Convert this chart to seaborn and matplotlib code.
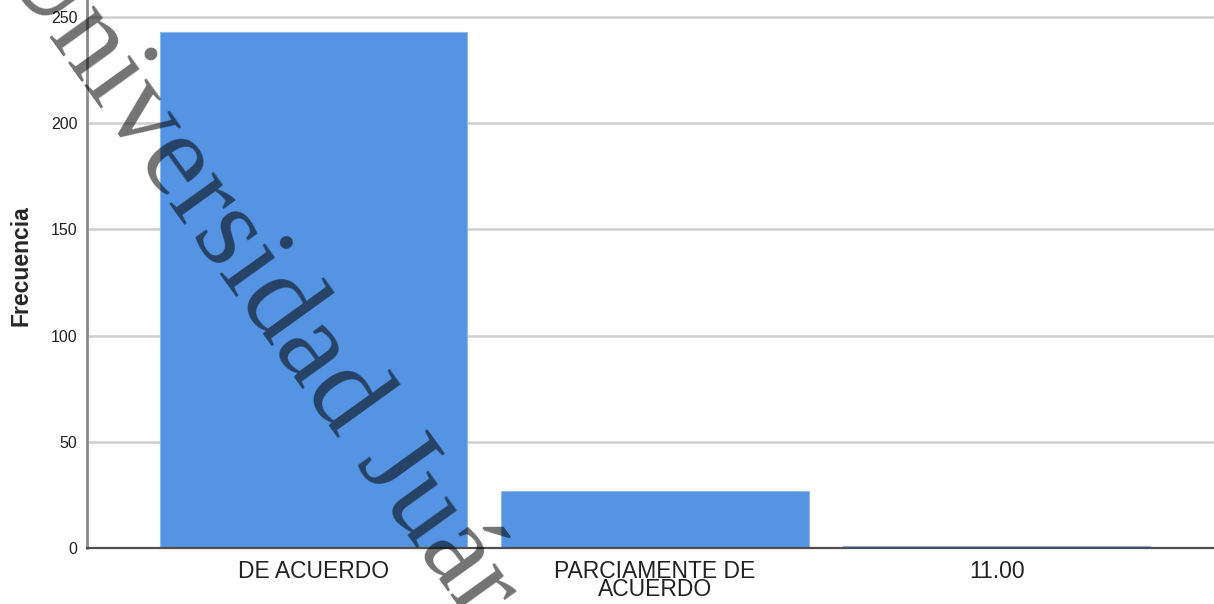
import pandas as pd
import matplotlib
matplotlib.use("Agg")
import matplotlib.pyplot as plt
import seaborn as sns


# ===================== datos =====================
categorias = ["DE ACUERDO", "PARCIAMENTE DE\nACUERDO", "11.00"]
frecuencias = [243, 27, 1]
y_ticks = [0, 50, 100, 150, 200, 250]
marca_agua = "Universidad Juárez Autónoma de Tabasco"

color_barra = "#5594e2"


def main():
    sns.set_style("white")
    plt.rcParams["font.family"] = ["Liberation Sans", "DejaVu Sans"]

    df = pd.DataFrame({"categoria": categorias, "frecuencia": frecuencias})

    fig = plt.figure(figsize=(12.14, 6.04), dpi=100)
    ax = fig.add_axes([87 / 1214, 56 / 604, 1 - 87 / 1214, 1 - 56 / 604])

    sns.barplot(data=df, x="categoria", y="frecuencia", color=color_barra,
                saturation=1, width=0.9, edgecolor="#8fb8ec", linewidth=0.8,
                ax=ax, zorder=2)

    ax.set_xlim(-0.663, 2.636)
    ax.set_ylim(0, 258)
    ax.set_yticks(y_ticks)
    ax.yaxis.grid(True, color="#cfcfcf", linewidth=1.8, zorder=0)
    ax.set_axisbelow(True)

    for s in ["top", "right"]:
        ax.spines[s].set_visible(False)
    ax.spines["left"].set_color("#8a8a8a")
    ax.spines["left"].set_linewidth(2)
    ax.spines["bottom"].set_color("#505050")
    ax.spines["bottom"].set_linewidth(1.6)
    ax.spines["bottom"].set_zorder(3)

    ax.tick_params(axis="y", length=0, pad=7, labelsize=11.5, labelcolor="#222222")
    ax.tick_params(axis="x", length=0, pad=9, labelsize=16.5, labelcolor="#222222")
    for lab in ax.get_xticklabels():
        lab.set_linespacing(0.68)

    ax.set_xlabel("")
    ax.set_ylabel("Frecuencia", fontsize=16.5, fontweight="bold")
    ax.yaxis.set_label_coords(-0.048, 0.515)

    # marca de agua diagonal
    fig.text(-3.6 / 1214, 1 + 35.7 / 604, marca_agua, rotation=-54.3,
             rotation_mode="anchor", ha="left", va="baseline",
             fontsize=86, family=["Liberation Serif", "DejaVu Serif"],
             color="black", alpha=0.55, zorder=10)

    fig.savefig("out.png", dpi=100)
    plt.close(fig)


if __name__ == "__main__":
    main()
